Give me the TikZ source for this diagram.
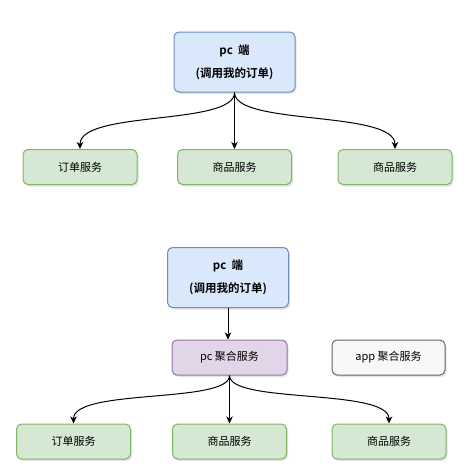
\documentclass[tikz,border=0pt]{standalone}
\usepackage{fontspec}
\setmainfont{Noto Sans CJK SC}[BoldFont={Noto Sans CJK SC Bold}]
\usetikzlibrary{arrows.meta,shadows}
\definecolor{bluefill}{HTML}{DAE8FC}
\definecolor{bluedraw}{HTML}{6C8EBF}
\definecolor{greenfill}{HTML}{D5E8D4}
\definecolor{greendraw}{HTML}{82B366}
\definecolor{purplefill}{HTML}{E1D5E7}
\definecolor{purpledraw}{HTML}{9673A6}
\definecolor{grayfill}{HTML}{F8F8F8}
\definecolor{graydraw}{HTML}{666666}
\begin{document}
\begin{tikzpicture}[x=1pt,y=-1pt,
  sketch/.style={rounded corners=5pt, line width=1pt,
    drop shadow={shadow xshift=1.5pt,shadow yshift=-2pt,opacity=0.22},
    inner sep=0pt, align=center, font=\fontsize{11pt}{14pt}\selectfont},
  client/.style={sketch, draw=bluedraw, fill=bluefill, minimum width=121pt, minimum height=60pt, font=\bfseries\fontsize{11.5pt}{14pt}\selectfont},
  svc/.style={sketch, draw=greendraw, fill=greenfill, minimum width=114pt, minimum height=35pt},
  agg/.style={sketch, draw=purpledraw, fill=purplefill, minimum width=115pt, minimum height=35pt},
  aggapp/.style={sketch, draw=graydraw, fill=grayfill, minimum width=113pt, minimum height=35pt},
  link/.style={draw=black, line width=1pt, -{Stealth[length=7pt,width=6.5pt,inset=2pt]}}
]
\useasboundingbox (0,0) rectangle (469,474);
% top part
\node[client] (pc1) at (234.5,62) {pc\ \ 端\\[9pt](调用我的订单)};
\node[svc] (o1) at (80,167) {订单服务};
\node[svc] (g1) at (234.5,167) {商品服务};
\node[svc] (h1) at (395,167) {商品服务};
\draw[link] (pc1.south) .. controls (234.5,126) and (80,110) .. (o1.north);
\draw[link] (pc1.south) -- (g1.north);
\draw[link] (pc1.south) .. controls (234.5,126) and (395,110) .. (h1.north);
% bottom part
\node[client] (pc2) at (228,277.5) {pc\ \ 端\\[9pt](调用我的订单)};
\node[agg] (a2) at (229.5,357.5) {pc 聚合服务};
\node[aggapp] (b2) at (388.5,357.5) {app 聚合服务};
\node[svc] (o2) at (73.5,441.5) {订单服务};
\node[svc] (g2) at (229.5,441.5) {商品服务};
\node[svc] (h2) at (389,441.5) {商品服务};
\draw[link] (pc2.south) -- (pc2.south |- a2.north);
\draw[link] (a2.south) .. controls (229.5,404) and (73.5,388) .. (o2.north);
\draw[link] (a2.south) -- (g2.north);
\draw[link] (a2.south) .. controls (229.5,404) and (389,388) .. (h2.north);
\end{tikzpicture}
\end{document}
